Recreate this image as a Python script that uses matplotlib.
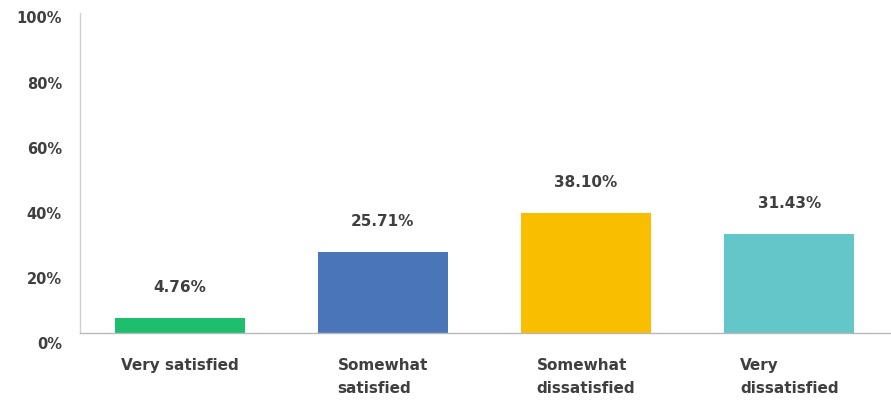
import matplotlib
matplotlib.use("Agg")
import matplotlib.pyplot as plt
import matplotlib.transforms as mtransforms

categories = ["Very satisfied", "Somewhat\nsatisfied", "Somewhat\ndissatisfied", "Very\ndissatisfied"]
values = [4.76, 25.71, 38.10, 31.43]
value_labels = ["4.76%", "25.71%", "38.10%", "31.43%"]
colors = ["#1dbf6f", "#4a76b8", "#f9be00", "#63c6c8"]
yticks = [0, 20, 40, 60, 80, 100]
ytick_labels = ["0%", "20%", "40%", "60%", "80%", "100%"]

W, H = 891, 402
fig = plt.figure(figsize=(W / 100, H / 100), dpi=100)
left, right, top, bottom = 80, 891, 14, 334
ax = fig.add_axes([left / W, (H - bottom) / H, (right - left) / W, (bottom - top) / H])

txt = "#3f3f3f"
x = list(range(len(values)))
ax.bar(x, values, width=0.64, color=colors, zorder=2)
for xi, v, lab in zip(x, values, value_labels):
    ax.annotate(lab, (xi, v), xytext=(0, 23), textcoords="offset points",
                ha="center", va="center", fontsize=11, fontweight="bold", color=txt)

ax.set_xlim(-0.49, 3.5)
ax.set_ylim(0, 101.6)
ax.set_yticks(yticks)
ax.set_yticklabels(ytick_labels, fontsize=10.5, fontweight="bold", color=txt)
ax.set_xticks(x)
ax.set_xticklabels(categories, fontsize=11, fontweight="bold", color=txt,
                   multialignment="left", linespacing=1.62)
ax.tick_params(axis="both", length=0)
ax.tick_params(axis="y", pad=13)
ax.tick_params(axis="x", pad=17.5)
# small per-label vertical shifts (pixels, downward) to mimic the reference layout
label_shift_px = [9, 7, 5, 3, 1, -2]
for lbl, sh in zip(ax.get_yticklabels(), label_shift_px):
    off = mtransforms.ScaledTranslation(0, -sh / 100, fig.dpi_scale_trans)
    lbl.set_transform(lbl.get_transform() + off)

for s in ["top", "right"]:
    ax.spines[s].set_visible(False)
ax.spines["left"].set_color("#d0d0d0")
ax.spines["bottom"].set_color("#b8b8b8")
ax.spines["left"].set_linewidth(1.0)
ax.spines["bottom"].set_linewidth(1.0)

fig.savefig("out.png", dpi=100)
